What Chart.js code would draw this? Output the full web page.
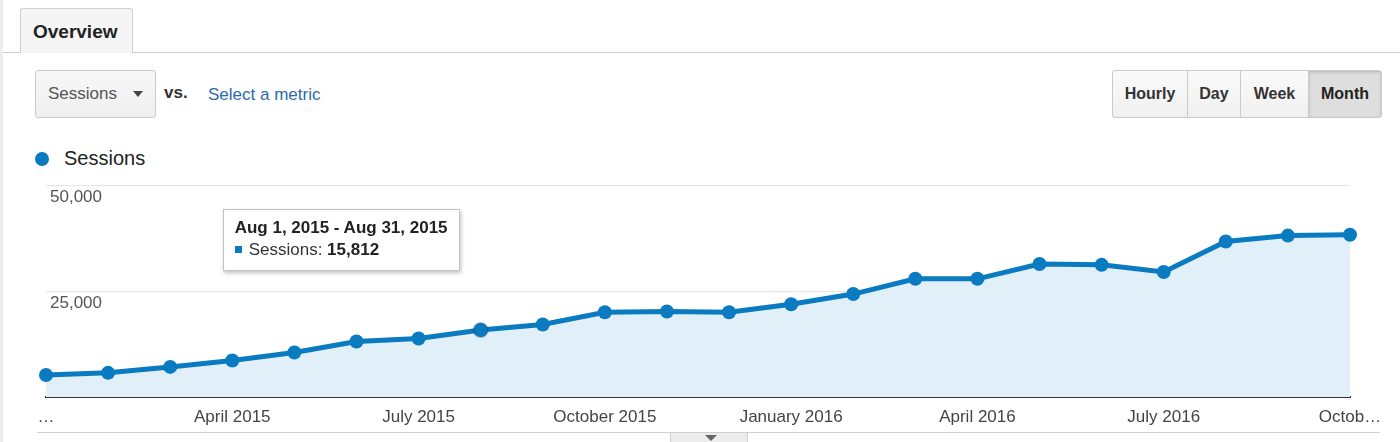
<!DOCTYPE html>
<html>
<head>
<meta charset="utf-8">
<script src="https://cdn.jsdelivr.net/npm/chart.js"></script>
<style>
    html, body {
        margin: 0;
        padding: 0;
        width: 1400px;
        height: 442px;
        overflow: hidden;
        background: #fff;
        font-family: 'Liberation Sans', Arial, sans-serif;
        position: relative;
    }
    .left-edge {
        position: absolute; left: 0; top: 0; width: 3px; height: 442px; background: #ececec;
    }
    .tab-line {
        position: absolute; left: 3px; right: 0; top: 52px; height: 1px; background: #cfcfcf;
    }
    .tab {
        position: absolute; left: 20px; top: 8px; width: 113px; height: 45px;
        border: 1px solid #cfcfcf; border-bottom: none; border-radius: 3px 3px 0 0;
        background: #f5f5f5; box-sizing: border-box;
        font-weight: bold; font-size: 19px; color: #222;
        line-height: 45px; padding-left: 12px;
    }
    .dropdown {
        position: absolute; left: 35px; top: 70px; width: 121px; height: 48px;
        box-sizing: border-box; border: 1px solid #cacaca; border-radius: 3px;
        background: linear-gradient(#f7f7f7, #efefef);
        font-size: 17px; color: #555; line-height: 46px; padding-left: 12px;
    }
    .dropdown .arrow {
        position: absolute; left: 97px; top: 20px; width: 0; height: 0;
        border-left: 5px solid transparent; border-right: 5px solid transparent;
        border-top: 6px solid #444;
    }
    .vs {
        position: absolute; left: 164px; top: 83px; font-size: 17px; font-weight: bold; color: #333;
    }
    .metric {
        position: absolute; left: 208px; top: 85px; font-size: 17px; color: #2a6aae;
    }
    .btns {
        position: absolute; left: 1112px; top: 70px; height: 48px; display: flex;
    }
    .btns div {
        box-sizing: border-box; height: 48px; border: 1px solid #cacaca; margin-left: -1px;
        background: linear-gradient(#fafafa, #f0f0f0);
        font-size: 16px; font-weight: bold; color: #333; text-align: center; line-height: 46px;
    }
    .btns div:first-child { border-radius: 3px 0 0 3px; margin-left: 0; }
    .btns div:last-child { border-radius: 0 3px 3px 0; }
    .btns .on { background: #dedede; box-shadow: inset 0 1px 3px rgba(0,0,0,0.2); color: #222; }
    .legend {
        position: absolute; left: 35px; top: 146px; font-size: 20px; color: #222; line-height: 24px;
    }
    .legend span {
        display: inline-block; width: 14px; height: 14px; border-radius: 50%;
        background: #0a7bc0; vertical-align: -1px; margin-right: 15px;
    }
    #chart-wrap {
        position: absolute; left: 0; top: 171px; width: 1400px; height: 271px;
    }
    .bottom-line {
        position: absolute; left: 37px; width: 1343px; top: 432px; height: 1px; background: #cfcfcf;
    }
    .bottom-tab {
        position: absolute; left: 670px; top: 432px; width: 78px; height: 10px;
        box-sizing: border-box; border: 1px solid #cfcfcf; border-bottom: none; background: #ececec;
    }
    .bottom-tab i {
        position: absolute; left: 34px; top: 2px; width: 0; height: 0;
        border-left: 6px solid transparent; border-right: 6px solid transparent;
        border-top: 6px solid #666;
    }
    #tip {
        position: absolute; display: none; background: #fff;
        border: 1px solid #c4c4c4; box-shadow: 1px 2px 4px rgba(0,0,0,0.25);
        padding: 8px 11px 10px 11px; font-size: 17px; line-height: 20px; color: #222;
        white-space: nowrap; pointer-events: none;
    }
    #tip .t { font-weight: bold; }
    #tip .row { margin-top: 2px; color: #333; }
    #tip .sq {
        display: inline-block; width: 7px; height: 7px; background: #0a7bc0;
        vertical-align: 2px; margin-right: 7px;
    }
    #tip .v { font-weight: bold; color: #222; }
</style>
</head>
<body>
<div class="left-edge"></div>
<div class="tab-line"></div>
<div class="tab">Overview</div>
<div class="dropdown">Sessions<div class="arrow"></div></div>
<div class="vs">vs.</div>
<div class="metric">Select a metric</div>
<div class="btns">
    <div style="width:76px">Hourly</div>
    <div style="width:54px">Day</div>
    <div style="width:69px">Week</div>
    <div class="on" style="width:74px">Month</div>
</div>
<div class="legend"><span></span>Sessions</div>
<div id="chart-wrap"><canvas id="chart"></canvas></div>
<div class="bottom-line"></div>
<div class="bottom-tab"><i></i></div>
<div id="tip"><div class="t"></div><div class="row"><span class="sq"></span>Sessions: <span class="v"></span></div></div>

<script>
// months shown (Jan 2015 - Oct 2016)
var monthKeys = ['2015-01', '2015-02', '2015-03', '2015-04', '2015-05', '2015-06',
    '2015-07', '2015-08', '2015-09', '2015-10', '2015-11', '2015-12',
    '2016-01', '2016-02', '2016-03', '2016-04', '2016-05', '2016-06',
    '2016-07', '2016-08', '2016-09', '2016-10'];

// sessions per month (Aug 2015 from the tooltip)
var sessions = [5200, 5700, 7100, 8600, 10500, 13100, 13800, 15812, 17100, 20000, 20200,
    20000, 21900, 24300, 27900, 27900, 31400, 31200, 29500, 36700, 38100, 38300];

// x axis labels, every third month, ends truncated like the original
var xTickLabels = ['…', '', '', 'April 2015', '', '', 'July 2015', '', '', 'October 2015', '', '',
    'January 2016', '', '', 'April 2016', '', '', 'July 2016', '', '', 'Octob…'];

var yTicks = [0, 25000, 50000];

var shortMonths = ['Jan', 'Feb', 'Mar', 'Apr', 'May', 'Jun', 'Jul', 'Aug', 'Sep', 'Oct', 'Nov', 'Dec'];

var activeIndex = 7;

function monthRange(i) {
    var parts = monthKeys[i].split('-');
    var y = +parts[0];
    var m = +parts[1] - 1;
    var last = new Date(y, m + 1, 0).getDate();
    var name = shortMonths[m];
    return name + ' 1, ' + y + ' - ' + name + ' ' + last + ', ' + y;
}

function fmt(n) {
    return n.toLocaleString('en-US');
}

// html tooltip, GA style, sits up and left of the point
function externalTooltip(context) {
    var tooltip = context.tooltip;
    var el = document.getElementById('tip');
    if (tooltip.opacity === 0 || !tooltip.dataPoints || !tooltip.dataPoints.length) {
        el.style.display = 'none';
        return;
    }
    var i = tooltip.dataPoints[0].dataIndex;
    el.querySelector('.t').textContent = monthRange(i);
    el.querySelector('.v').textContent = fmt(sessions[i]);
    el.style.display = 'block';
    var wrap = document.getElementById('chart-wrap');
    el.style.left = (wrap.offsetLeft + tooltip.caretX - 258) + 'px';
    el.style.top = (wrap.offsetTop + tooltip.caretY - 121) + 'px';
}

Chart.defaults.font.family = "'Liberation Sans', Arial, sans-serif";

var ctx = document.getElementById('chart').getContext('2d');
var myChart = new Chart(ctx, {
    type: 'line',
    data: {
        labels: monthKeys,
        datasets: [{
            label: 'Sessions',
            data: sessions,
            borderColor: '#0a7bc0',
            backgroundColor: '#e1f0f8',
            borderWidth: 5,
            fill: 'origin',
            tension: 0,
            pointRadius: 7,
            pointBackgroundColor: '#0a7bc0',
            pointBorderWidth: 0,
            pointHoverRadius: 7,
            pointHoverBorderWidth: 2,
            pointHoverBorderColor: 'rgba(0, 60, 100, 0.3)',
            pointHoverBackgroundColor: '#0a7bc0',
            clip: 10
        }]
    },
    options: {
        responsive: true,
        maintainAspectRatio: false,
        animation: false,
        events: [],
        layout: {
            padding: { top: 4, left: 46, right: 50, bottom: 0 }
        },
        scales: {
            x: {
                offset: false,
                grid: { display: false, drawTicks: false },
                border: { display: true, color: '#333', width: 2 },
                ticks: {
                    autoSkip: false,
                    maxRotation: 0,
                    minRotation: 0,
                    padding: 10,
                    color: '#444',
                    font: { size: 17 },
                    callback: function(value, index) {
                        return xTickLabels[index];
                    }
                },
                afterFit: function(scale) {
                    scale.height = 45;
                }
            },
            y: {
                min: yTicks[0],
                max: yTicks[yTicks.length - 1],
                afterBuildTicks: function(scale) {
                    scale.ticks = yTicks.map(function(v) { return { value: v }; });
                },
                grid: {
                    drawTicks: false,
                    color: function(c) {
                        return c.tick && c.tick.value === 0 ? 'rgba(0,0,0,0)' : '#e4e4e4';
                    }
                },
                border: { display: false },
                ticks: {
                    mirror: true,
                    padding: 4,
                    labelOffset: 12,
                    color: '#555',
                    font: { size: 17 },
                    callback: function(value) {
                        return value === 0 ? '' : fmt(value);
                    }
                },
                afterFit: function(scale) {
                    scale.width = 0;
                }
            }
        },
        plugins: {
            legend: { display: false },
            tooltip: {
                enabled: false,
                external: externalTooltip
            }
        }
    }
});

// show the hovered month like in the screenshot
var pt = myChart.getDatasetMeta(0).data[activeIndex];
myChart.setActiveElements([{ datasetIndex: 0, index: activeIndex }]);
myChart.tooltip.setActiveElements([{ datasetIndex: 0, index: activeIndex }], { x: pt.x, y: pt.y });
myChart.update();
</script>
</body>
</html>
